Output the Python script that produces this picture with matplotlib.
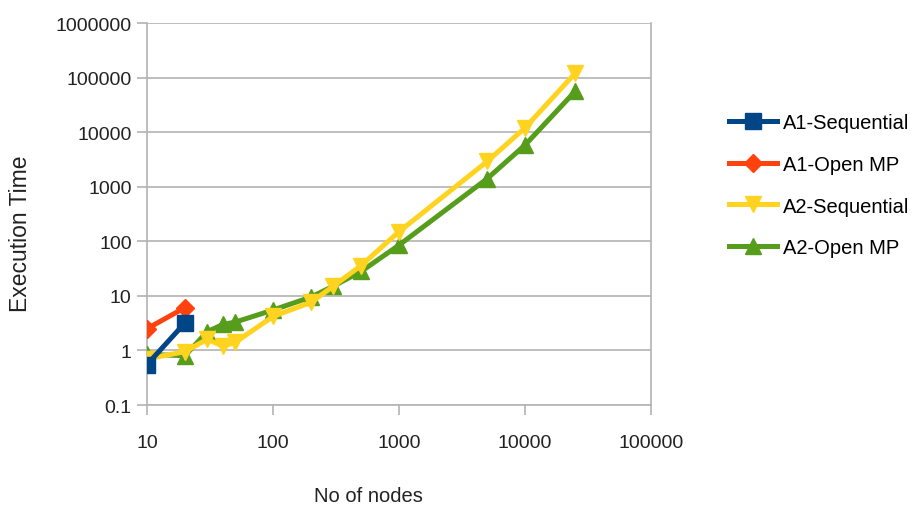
import matplotlib
matplotlib.use("Agg")
import matplotlib.pyplot as plt
from matplotlib.ticker import FixedLocator, FuncFormatter, NullLocator

plt.rcParams['font.family'] = ['Liberation Sans', 'DejaVu Sans']

# execution time per number of nodes
a1_nodes = [10, 20]
a1_seq = [0.55, 3.2]
a1_omp = [2.5, 6.1]

a2_nodes = [10, 20, 30, 40, 50, 100, 200, 300, 500, 1000, 5000, 10000, 25000]
a2_seq = [0.7, 0.95, 1.6, 1.2, 1.4, 4.2, 7.6, 15, 36, 150, 2900, 12000, 120000]
a2_omp = [0.85, 0.8, 2.2, 3.0, 3.3, 5.5, 9.5, 15, 28, 85, 1400, 5800, 56000]

x_ticks = [10, 100, 1000, 10000, 100000]
y_ticks = [0.1, 1, 10, 100, 1000, 10000, 100000, 1000000]

fig = plt.figure(figsize=(9.16, 5.10), dpi=100)
ax = fig.add_axes([0.1605, 0.2039, 0.5502, 0.7490])

lw = 3.6
ax.plot(a2_nodes, a2_omp, color='#579d1c', lw=lw, marker='^', ms=12, label='A2-Open MP', zorder=3)
ax.plot(a2_nodes, a2_seq, color='#ffd320', lw=lw, marker='v', ms=12, label='A2-Sequential', zorder=4)
ax.plot(a1_nodes, a1_omp, color='#ff420e', lw=lw, marker='D', ms=9, label='A1-Open MP', zorder=5)
ax.plot(a1_nodes, a1_seq, color='#004586', lw=lw, marker='s', ms=12, label='A1-Sequential', zorder=6)

ax.set_xscale('log')
ax.set_yscale('log')
ax.set_xlim(10, 100000)
ax.set_ylim(0.1, 1000000)

fmt = FuncFormatter(lambda v, _: f'{v:g}' if v < 1 else f'{int(round(v))}')
ax.xaxis.set_major_locator(FixedLocator(x_ticks))
ax.yaxis.set_major_locator(FixedLocator(y_ticks))
ax.xaxis.set_major_formatter(fmt)
ax.yaxis.set_major_formatter(fmt)
ax.xaxis.set_minor_locator(NullLocator())
ax.yaxis.set_minor_locator(NullLocator())

grid_c = '#b3b3b3'
ax.grid(axis='y', color=grid_c, lw=1.2)
for s in ['left', 'bottom', 'right']:
    ax.spines[s].set_color(grid_c)
    ax.spines[s].set_linewidth(1.2)
ax.spines['top'].set_visible(False)
ax.tick_params(axis='both', length=7, width=1.2, color=grid_c, labelsize=14, labelcolor='#222222')
ax.tick_params(axis='x', pad=14)
ax.tick_params(axis='y', pad=4)

ax.set_xlabel('No of nodes', fontsize=14.5, color='#222222')
ax.xaxis.set_label_coords(0.44, -0.238)
ax.xaxis.label.set_va('center')
ax.set_ylabel('Execution Time', fontsize=16.5, color='#222222')
ax.yaxis.set_label_coords(-0.252, 0.45)
ax.yaxis.label.set_va('center')

handles, labels = ax.get_legend_handles_labels()
order = [3, 2, 1, 0]
ax.legend([handles[i] for i in order], [labels[i] for i in order],
          loc='center left', bbox_to_anchor=(0.796, 0.635), bbox_transform=fig.transFigure,
          borderpad=0, borderaxespad=0, frameon=False,
          fontsize=14.5, handlelength=2.4, labelspacing=1.13, handletextpad=0.25)

fig.savefig('out.png', dpi=100)
